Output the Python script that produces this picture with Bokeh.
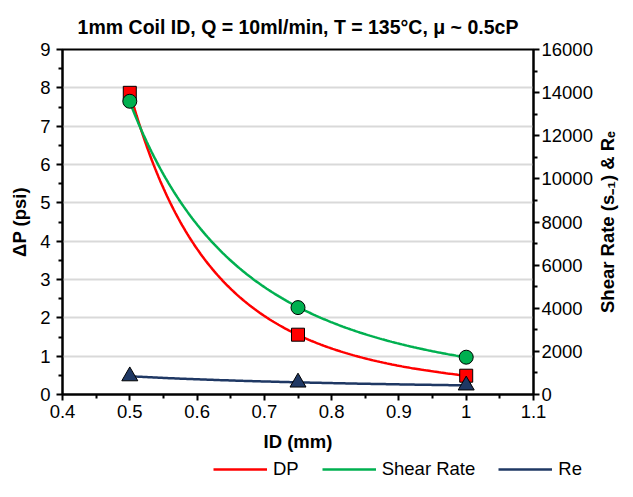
import numpy as np
from bokeh.plotting import figure
from bokeh.layouts import column, row
from bokeh.models import (Range1d, LinearAxis, FixedTicker, Legend, LegendItem)
from bokeh.embed import file_html
from bokeh.resources import INLINE

# ---- data ----
id_mm = [0.5, 0.75, 1.0]
dp_psi = [7.87, 1.56, 0.49]
shear_rate = [13600, 4030, 1730]
reynolds = [850, 560, 425]

x_ticks = [0.4, 0.5, 0.6, 0.7, 0.8, 0.9, 1.0, 1.1]
x_tick_labels = ["0.4", "0.5", "0.6", "0.7", "0.8", "0.9", "1", "1.1"]
x_minor_ticks = [0.45, 0.55, 0.65, 0.75, 0.85, 0.95, 1.05]
left_ticks = [0, 1, 2, 3, 4, 5, 6, 7, 8, 9]
right_ticks = [0, 2000, 4000, 6000, 8000, 10000, 12000, 14000, 16000]

title_text = "1mm Coil ID, Q = 10ml/min, T = 135°C, μ ~ 0.5cP"
x_title = "ID (mm)"
left_title = "ΔP (psi)"
right_title = "Shear Rate (s₋₁) & Rₑ"
series_names = ["DP", "Shear Rate", "Re"]

FONT = "Liberation Sans"
RED = "#FF0000"
GREEN = "#00B050"
NAVY = "#1F3864"
TICK_FS = "18.5px"


def power_trend(x, y):
    b, ln_a = np.polyfit(np.log(x), np.log(y), 1)
    xs = np.linspace(min(x), max(x), 200)
    return xs, np.exp(ln_a) * xs ** b


TOTAL_H = 481
MAIN_H = 457
FRAME_TOP = 49
FRAME_BOTTOM = 394

p = figure(width=595, height=MAIN_H, output_backend="svg", toolbar_location=None,
           x_range=Range1d(0.4, 1.1), y_range=Range1d(0, 9),
           min_border_left=62, min_border_right=60, min_border_top=FRAME_TOP,
           min_border_bottom=MAIN_H - FRAME_BOTTOM,
           background_fill_color="white", border_fill_color="white")
p.extra_y_ranges = {"right": Range1d(0, 16000)}

p.title.text = title_text
p.title.text_font = FONT
p.title.text_font_size = "19.5px"
p.title.text_font_style = "bold"
p.title.text_color = "black"
p.title.align = "center"
p.title.standoff = 23
p.title.offset = 10

p.outline_line_color = "black"
p.outline_line_width = 2

p.xgrid.visible = False
p.ygrid.grid_line_color = "#D9D9D9"
p.ygrid.grid_line_width = 2
p.ygrid.ticker = FixedTicker(ticks=left_ticks)

xa = p.xaxis[0]
xa.ticker = FixedTicker(ticks=x_ticks, minor_ticks=x_minor_ticks)
xa.major_label_overrides = dict(zip(x_ticks, x_tick_labels))
xa.axis_label = x_title

ya = p.yaxis[0]
ya.ticker = FixedTicker(ticks=left_ticks,
                        minor_ticks=[t + 0.5 for t in left_ticks[:-1]])
ya.axis_label = left_title

ra = LinearAxis(y_range_name="right")
ra.ticker = FixedTicker(ticks=right_ticks,
                        minor_ticks=[t + 1000 for t in right_ticks[:-1]])
p.add_layout(ra, "right")

for ax in (xa, ya, ra):
    ax.axis_line_width = 2
    ax.axis_line_color = "black"
    ax.major_tick_line_width = 2
    ax.minor_tick_line_width = 2
    ax.major_tick_line_color = "black"
    ax.minor_tick_line_color = "black"
    ax.major_tick_in = 0
    ax.major_tick_out = 6
    ax.minor_tick_in = 0
    ax.minor_tick_out = 4
    ax.major_label_text_font = FONT
    ax.major_label_text_font_size = TICK_FS
    ax.major_label_text_color = "black"
    ax.axis_label_text_font = FONT
    ax.axis_label_text_font_size = TICK_FS
    ax.axis_label_text_font_style = "bold"
    ax.axis_label_text_color = "black"

xa.major_label_standoff = 4
xa.axis_label_standoff = 10
ya.major_label_standoff = 6
ya.axis_label_standoff = 7
ra.major_label_standoff = 2

# trend lines (power fits of each series)
xs, ys = power_trend(id_mm, dp_psi)
p.line(xs, ys, line_color=RED, line_width=2.5)
xs, ys = power_trend(id_mm, shear_rate)
p.line(xs, ys, line_color=GREEN, line_width=2.5, y_range_name="right")
xs, ys = power_trend(id_mm, reynolds)
p.line(xs, ys, line_color=NAVY, line_width=2.5, y_range_name="right")

# markers
p.scatter(id_mm, dp_psi, marker="square", size=13, fill_color=RED,
          line_color="black", line_width=1)
p.scatter(id_mm, shear_rate, marker="circle", size=14, fill_color=GREEN,
          line_color="black", line_width=1, y_range_name="right")
p.scatter(id_mm, reynolds, marker="triangle", size=16, fill_color=NAVY,
          line_color="black", line_width=1, y_range_name="right")

# ---- right-hand axis title (reads bottom to top), in a slim side figure ----
r = figure(width=22, height=MAIN_H, output_backend="svg", toolbar_location=None,
           x_range=Range1d(0, 1), y_range=Range1d(0, 1),
           min_border_left=21, min_border_right=0, min_border_top=FRAME_TOP,
           min_border_bottom=MAIN_H - FRAME_BOTTOM,
           outline_line_color=None, background_fill_color="white",
           border_fill_color="white")
r.xaxis.visible = False
r.grid.visible = False
ry = r.yaxis[0]
ry.ticker = FixedTicker(ticks=[])
ry.axis_line_color = None
ry.major_tick_line_color = None
ry.minor_tick_line_color = None
ry.major_tick_out = 0
ry.minor_tick_out = 0
ry.axis_label = right_title
ry.axis_label_standoff = 0
ry.axis_label_text_font = FONT
ry.axis_label_text_font_size = TICK_FS
ry.axis_label_text_font_style = "bold"
ry.axis_label_text_color = "black"

# ---- legend strip (series drawn off-range so only the legend shows) ----
g = figure(width=617, height=TOTAL_H - MAIN_H, output_backend="svg", toolbar_location=None,
           x_range=Range1d(0, 1), y_range=Range1d(-2, -1),
           min_border=0, outline_line_color=None,
           background_fill_color="white", border_fill_color="white")
g.axis.visible = False
g.grid.visible = False
h_dp = g.line(id_mm, dp_psi, line_color=RED, line_width=2.5)
h_sr = g.line(id_mm, shear_rate, line_color=GREEN, line_width=2.5)
h_re = g.line(id_mm, reynolds, line_color=NAVY, line_width=2.5)
legend = Legend(items=[LegendItem(label=series_names[0], renderers=[h_dp]),
                       LegendItem(label=series_names[1], renderers=[h_sr]),
                       LegendItem(label=series_names[2], renderers=[h_re])],
                orientation="horizontal", location=(213, 1),
                glyph_width=54, glyph_height=16, label_standoff=6, spacing=23,
                padding=0, margin=0, border_line_color=None,
                background_fill_alpha=0,
                label_text_font=FONT, label_text_font_size=TICK_FS,
                label_text_color="black")
g.add_layout(legend, "center")

layout = column(row(p, r, spacing=0), g, spacing=0)
open("out.html", "w").write(file_html(layout, INLINE))
